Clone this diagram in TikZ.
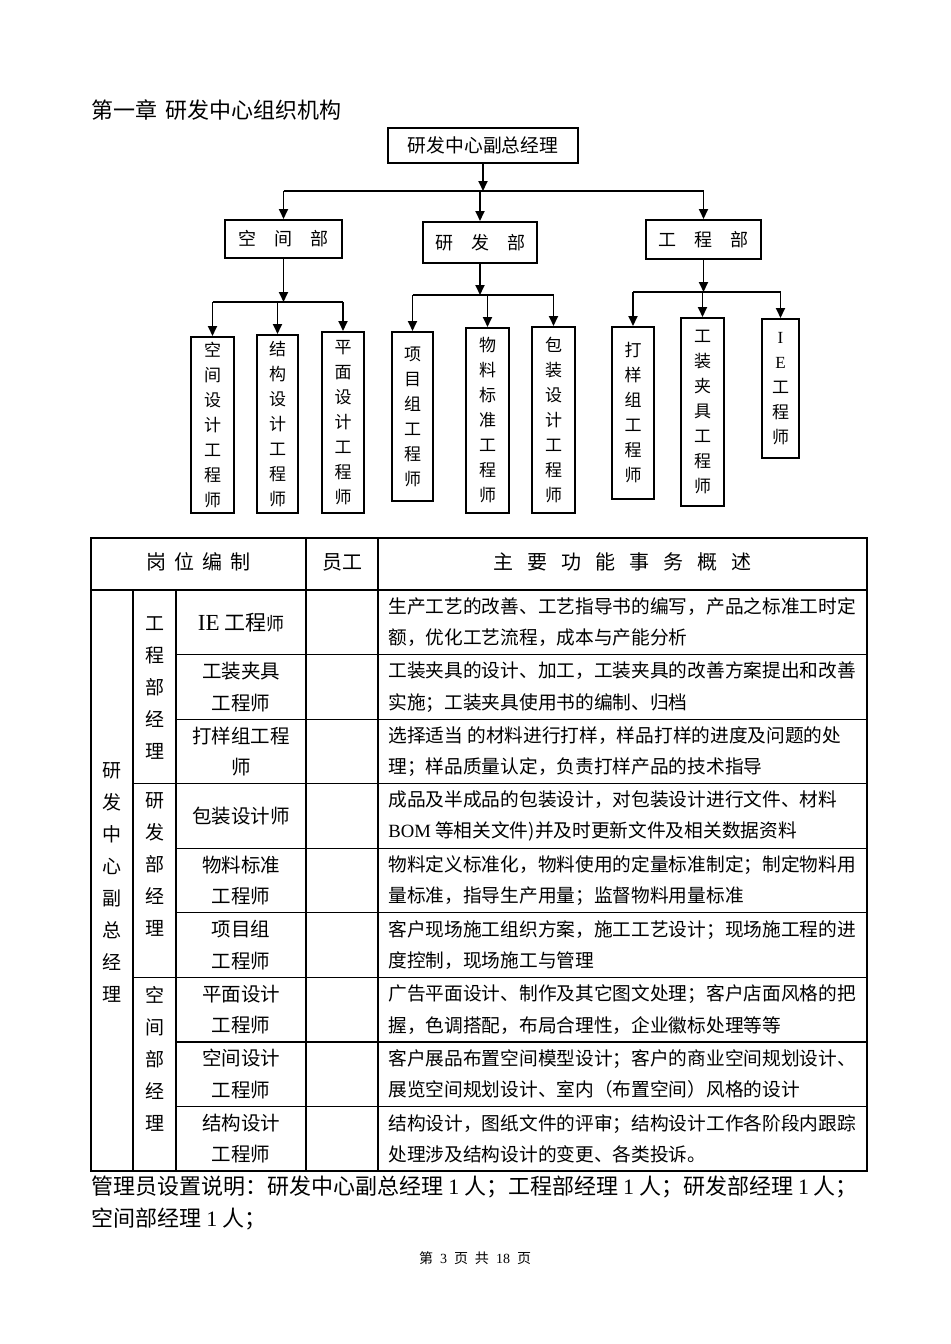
\documentclass[tikz,border=0pt]{standalone}
\usepackage{fontspec}
\setmainfont{Noto Sans CJK SC}
\newfontfamily\timesfont{Liberation Serif}
\usetikzlibrary{arrows.meta}

\begin{document}
\begin{tikzpicture}[x=0.5pt,y=-0.5pt,>={Triangle[length=5pt,width=4.5pt]},
  orgbox/.style={draw,line width=1pt,inner sep=0pt},
  vbox/.style={orgbox,align=center,font=\fontsize{8.5}{12.5}\selectfont},
  orglink/.style={line width=0.9pt},
  tabline/.style={line width=0.6pt},
  celltxt/.style={inner sep=0pt,align=center,font=\fontsize{9.75}{15.75}\selectfont},
  desctxt/.style={inner sep=0pt,anchor=west,align=left,font=\fontsize{9.35}{15.75}\selectfont}]
  \fill[white] (0,0) rectangle (950,1344);
  \useasboundingbox (0,0) rectangle (950,1344);
  % org chart
  \node[anchor=west,inner sep=0pt,font=\fontsize{11}{13}\selectfont] (title) at (91,110) {第一章\, 研发中心组织机构};
  \node[orgbox,minimum width=95pt,minimum height=17.5pt,font=\fontsize{9.4}{11}\selectfont] (fzjl) at (483,145.5) {研发中心副总经理};
  \node[orgbox,minimum width=58.5pt,minimum height=19pt,font=\fontsize{9}{11}\selectfont] (kjb) at (283.5,239) {空\quad 间\quad 部};
  \node[orgbox,minimum width=57pt,minimum height=20.5pt,font=\fontsize{9}{11}\selectfont] (yfb) at (480,242.5) {研\quad 发\quad 部};
  \node[orgbox,minimum width=57.5pt,minimum height=19.5pt,font=\fontsize{9}{11}\selectfont] (gcb) at (703.5,239.5) {工\quad 程\quad 部};
  \foreach \n/\x/\y/\w/\h/\t in {
      kjsj/212.5/425/21.5/88/{空\\间\\设\\计\\工\\程\\师},
      jgsj/277.5/424/20.5/89/{结\\构\\设\\计\\工\\程\\师},
      pmsj/343/422.5/21/90.5/{平\\面\\设\\计\\工\\程\\师},
      xmz/412.5/416.5/20.5/84.5/{项\\目\\组\\工\\程\\师},
      wlbz/487.5/420.5/21.5/92.5/{物\\料\\标\\准\\工\\程\\师},
      bzsj/553.5/420/21.5/93/{包\\装\\设\\计\\工\\程\\师},
      dyz/633/413/21/86/{打\\样\\组\\工\\程\\师},
      gzjj/702.5/412/21.5/94/{工\\装\\夹\\具\\工\\程\\师},
      iegc/780.5/388.5/18.5/69.5/{{\timesfont I}\\{\timesfont E}\\工\\程\\师}}
    \node[vbox,minimum width=\w pt,minimum height=\h pt] (\n) at (\x,\y) {\t};
  % connectors
  \coordinate (tb) at (0,191);
  \coordinate (kb) at (0,302);
  \coordinate (yb) at (0,295);
  \coordinate (gb) at (0,292);
  \draw[orglink,->] (fzjl.south) -- (fzjl.south |- tb);
  \draw[orglink] (kjb.north |- tb) -- (gcb.north |- tb);
  \foreach \n in {kjb,yfb,gcb} \draw[orglink,->] (\n.north |- tb) -- (\n.north);
  \draw[orglink,->] (kjb.south) -- (kjb.south |- kb);
  \draw[orglink] (kjsj.north |- kb) -- (pmsj.north |- kb);
  \foreach \n in {kjsj,jgsj,pmsj} \draw[orglink,->] (\n.north |- kb) -- (\n.north);
  \draw[orglink,->] (yfb.south) -- (yfb.south |- yb);
  \draw[orglink] (xmz.north |- yb) -- (bzsj.north |- yb);
  \foreach \n in {xmz,wlbz,bzsj} \draw[orglink,->] (\n.north |- yb) -- (\n.north);
  \draw[orglink,->] (gcb.south) -- (gcb.south |- gb);
  \draw[orglink] (dyz.north |- gb) -- (iegc.north |- gb);
  \foreach \n in {dyz,gzjj,iegc} \draw[orglink,->] (\n.north |- gb) -- (\n.north);
  % table
  \draw[tabline] (91,538) rectangle (867,1171);
  \draw[tabline] (91,590) -- (867,590);
  \foreach \x/\ya in {133/590,176/590,306/538,378/538} \draw[tabline] (\x,\ya) -- (\x,1171);
  \foreach \i in {1,2,4,5,7,8} \draw[tabline] (176,{590+64.556*\i}) -- (867,{590+64.556*\i});
  \foreach \i in {3,6} \draw[tabline] (133,{590+64.556*\i}) -- (867,{590+64.556*\i});
  \node[celltxt,font=\fontsize{10}{12}\selectfont] (hgw) at (198.5,562) {岗\hspace{0.4em}位\hspace{0.4em}编\hspace{0.4em}制};
  \node[celltxt,font=\fontsize{10}{12}\selectfont] (hyg) at (342,562) {员工};
  \node[celltxt,font=\fontsize{10}{12}\selectfont] (hzy) at (622.5,562) {主\hspace{0.7em}要\hspace{0.7em}功\hspace{0.7em}能\hspace{0.7em}事\hspace{0.7em}务\hspace{0.7em}概\hspace{0.7em}述};
  \node[celltxt,font=\fontsize{9.5}{16}\selectfont] (zxjl) at (112,882) {研\\发\\中\\心\\副\\总\\经\\理};
  \node[celltxt,font=\fontsize{9.5}{16}\selectfont] (gcjl) at (154.5,688.5) {工\\程\\部\\经\\理};
  \node[celltxt,font=\fontsize{9.5}{16}\selectfont] (yfjl) at (154.5,864.5) {研\\发\\部\\经\\理};
  \node[celltxt,font=\fontsize{9.5}{16}\selectfont] (kjjl) at (154.5,1059) {空\\间\\部\\经\\理};
  \foreach \i/\p/\d in {
      1/{{\timesfont\fontsize{11.5}{13}\selectfont IE} {\fontsize{10.5}{13}\selectfont 工程}{\fontsize{9}{13}\selectfont 师}}/{生产工艺的改善、工艺指导书的编写，产品之标准工时定\\额，优化工艺流程，成本与产能分析},
      2/{工装夹具\\工程师}/{工装夹具的设计、加工，工装夹具的改善方案提出和改善\\实施；工装夹具使用书的编制、归档},
      3/{打样组工程\\师}/{选择适当 的材料进行打样，样品打样的进度及问题的处\\理；样品质量认定，负责打样产品的技术指导},
      4/{包装设计师}/{成品及半成品的包装设计，对包装设计进行文件、材料\\{\timesfont BOM} 等相关文件)并及时更新文件及相关数据资料},
      5/{物料标准\\工程师}/{物料定义标准化，物料使用的定量标准制定；制定物料用\\量标准，指导生产用量；监督物料用量标准},
      6/{项目组\\工程师}/{客户现场施工组织方案，施工工艺设计；现场施工程的进\\度控制，现场施工与管理},
      7/{平面设计\\工程师}/{广告平面设计、制作及其它图文处理；客户店面风格的把\\握，色调搭配，布局合理性，企业徽标处理等等},
      8/{空间设计\\工程师}/{客户展品布置空间模型设计；客户的商业空间规划设计、\\展览空间规划设计、室内（布置空间）风格的设计},
      9/{结构设计\\工程师}/{结构设计，图纸文件的评审；结构设计工作各阶段内跟踪\\处理涉及结构设计的变更、各类投诉。}}
  {
    \node[celltxt] (p\i) at (241,{590+64.556*(\i-0.5)}) {\p};
    \node[desctxt] (d\i) at (388,{590+64.556*(\i-0.5)}) {\d};
  }
  % note and page number
  \node[anchor=west,align=left,inner sep=0pt,font=\fontsize{11}{16}\selectfont] (note) at (91,1203) {管理员设置说明：研发中心副总经理 {\timesfont 1} 人；工程部经理 {\timesfont 1} 人；研发部经理 {\timesfont 1} 人；\\空间部经理 {\timesfont 1} 人；};
  \node[inner sep=0pt,font=\fontsize{7}{8}\selectfont] (pg) at (475,1258) {第\hspace{0.5em}{\timesfont 3}\hspace{0.5em}页\hspace{0.5em}共\hspace{0.5em}{\timesfont 18}\hspace{0.5em}页};
\end{tikzpicture}
\end{document}
